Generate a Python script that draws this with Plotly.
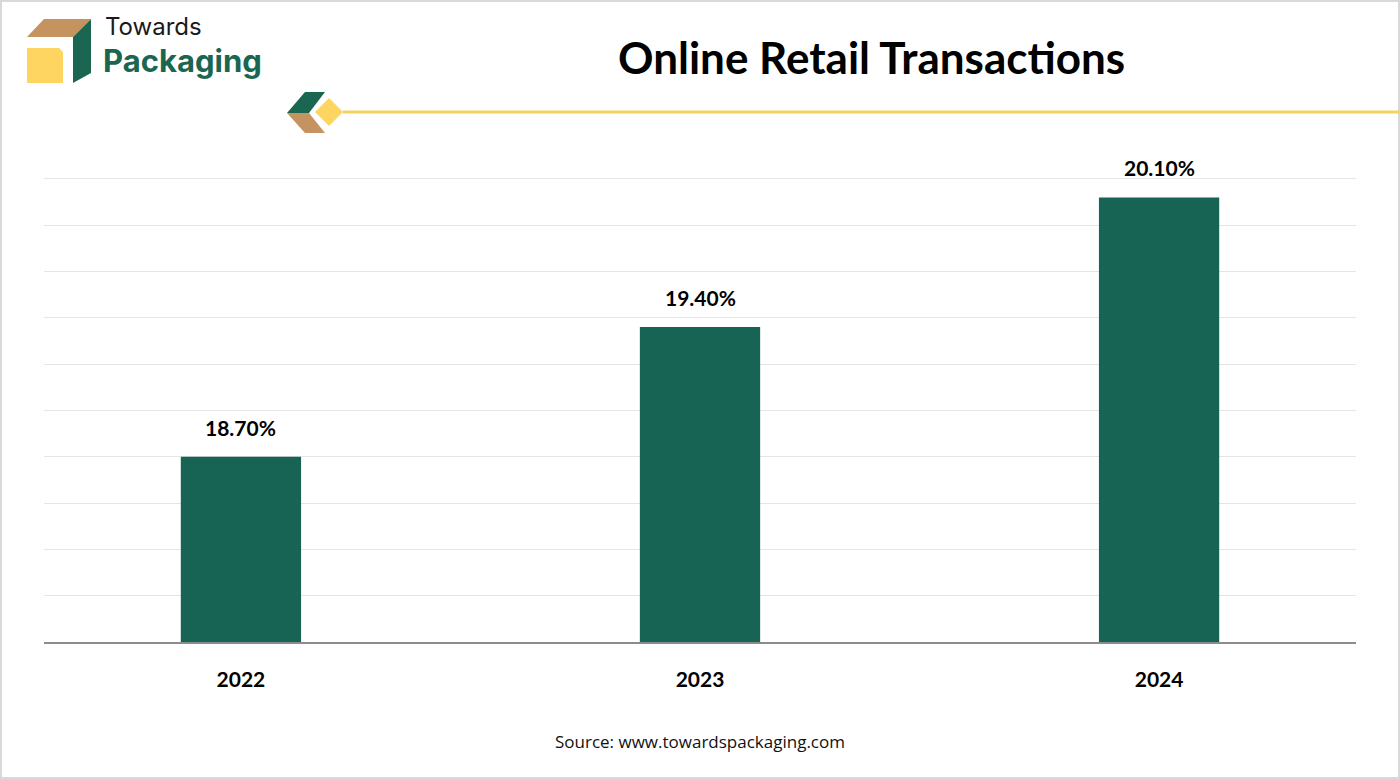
import plotly.graph_objects as go

years = ["2022", "2023", "2024"]
shares = [18.7, 19.4, 20.1]
title_text = "Online Retail Transactions"
source_text = "Source: www.towardspackaging.com"

W, H = 1400, 779
L, R, T, B = 44, 44, 177, 137
PW, PH = W - L - R, H - T - B

def px(x):
    return (x - L) / PW

def py(y):
    return (H - B - y) / PH

def path(pts):
    return "M " + " L ".join(f"{px(a):.5f},{py(b):.5f}" for a, b in pts) + " Z"

bar_color = "#176454"
fig = go.Figure()
fig.add_trace(go.Bar(
    x=years, y=shares, marker=dict(color=bar_color, line=dict(width=0)),
    width=0.262, hoverinfo="skip",
))

for i, v in enumerate(shares):
    fig.add_annotation(x=i, y=v, xref="x", yref="y", text=f"{v:.2f}%", showarrow=False,
                       yanchor="bottom", yshift=15,
                       font=dict(family="Lato", size=21, color="#000", weight="bold"))

shapes = []
# logo box
shapes.append(dict(type="path", path=path([(27, 37), (44, 19), (91, 19), (73, 37)]),
                   fillcolor="#c4935f", line=dict(width=0)))
shapes.append(dict(type="path", path=path([(73, 37), (91, 19), (91, 73), (73, 83)]),
                   fillcolor="#1a6650", line=dict(width=0)))
shapes.append(dict(type="path", path=path([(27, 48), (59, 48), (63, 52), (63, 83), (27, 83)]),
                   fillcolor="#fdd560", line=dict(width=0)))
# decoration
shapes.append(dict(type="path", path=path([(287, 113), (305, 92), (325, 92), (309, 113)]),
                   fillcolor="#1a6650", line=dict(width=0)))
shapes.append(dict(type="path", path=path([(287, 113), (309, 113), (325, 133), (305, 133)]),
                   fillcolor="#c4935f", line=dict(width=0)))
shapes.append(dict(type="line", x0=px(343), x1=px(1400), y0=py(112), y1=py(112),
                   line=dict(color="#f5d35c", width=3)))
shapes.append(dict(type="path", path=path([(315, 112), (329, 98), (343, 112), (329, 126)]),
                   fillcolor="#fdd560", line=dict(width=0)))
# border
shapes.append(dict(type="rect", x0=px(1), x1=px(1399), y0=py(1), y1=py(778),
                   line=dict(color="#d9d9d9", width=2),
                   fillcolor="rgba(0,0,0,0)", layer="below"))
for s in shapes:
    s.setdefault("xref", "paper")
    s.setdefault("yref", "paper")
fig.update_layout(shapes=shapes)

def label(x, y, text, font, xanchor="center"):
    fig.add_annotation(x=px(x), y=py(y), xref="paper", yref="paper", text=text,
                       xanchor=xanchor, yanchor="middle", showarrow=False,
                       borderpad=0, font=font)

label(871, 57, title_text, dict(family="Lato", size=44, color="#000", weight="bold"))
label(104, 26, "Towards", dict(family="Inter", size=24, color="#1a1a1a"), "left")
label(102, 61, "Packaging", dict(family="Inter", size=31, color="#1a6650", weight="bold"), "left")
label(700, 741, source_text, dict(family="Open Sans", size=17, color="#111"))

fig.update_layout(
    width=W, height=H, margin=dict(l=L, r=R, t=T, b=B),
    paper_bgcolor="white", plot_bgcolor="white", showlegend=False,
    xaxis=dict(type="category", range=[-0.429, 2.429], showgrid=False,
               showline=True, linecolor="#8c8c8c", linewidth=2,
               tickfont=dict(family="Lato", size=21, color="#000", weight="bold"),
               ticks="", ticklabelstandoff=18, fixedrange=True),
    yaxis=dict(range=[17.7, 20.21], dtick=0.25, tick0=17.7, showticklabels=False,
               gridcolor="#e5e5e5", gridwidth=1, zeroline=False, showline=False,
               fixedrange=True),
)

fig.write_html("out.html", config={"displayModeBar": False},
               post_script="document.body.style.margin='0';document.body.style.overflow='hidden';")
